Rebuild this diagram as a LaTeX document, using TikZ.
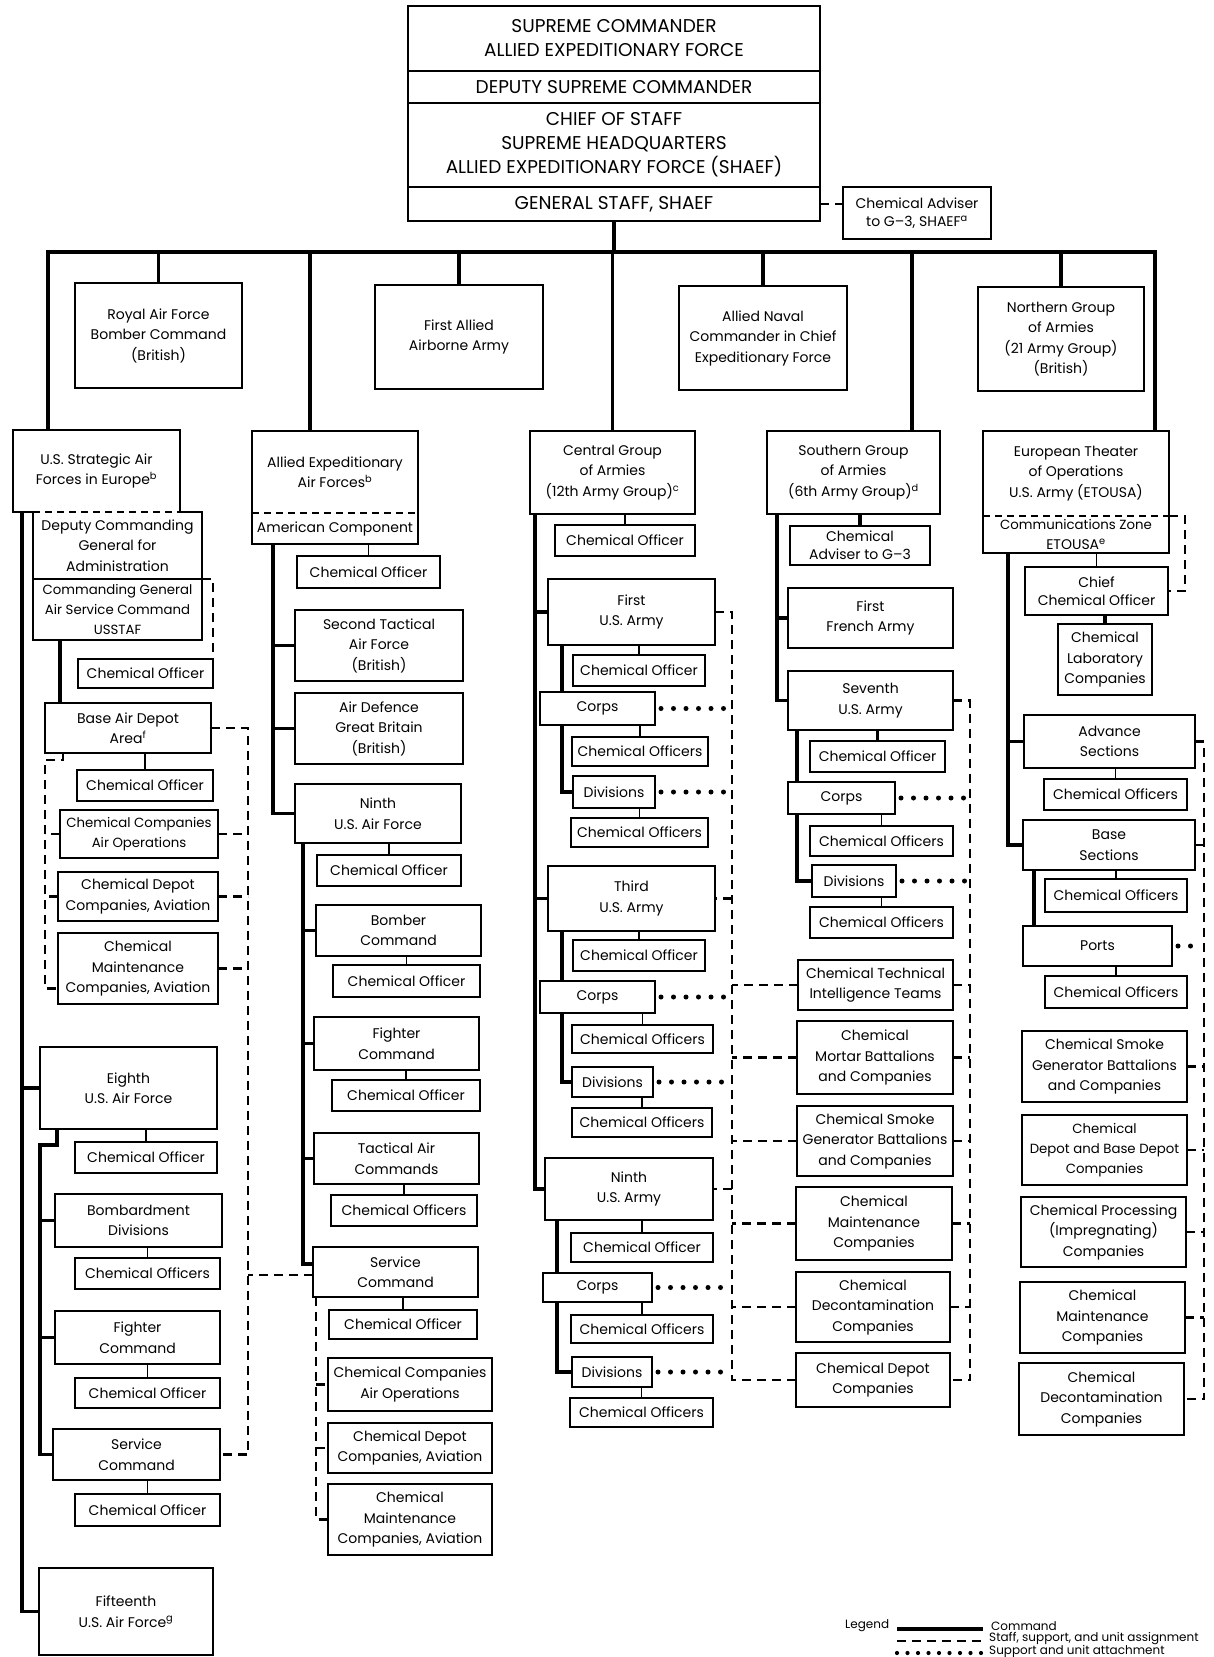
\documentclass[tikz,border=0pt]{standalone}
\usepackage{fontspec}
\setmainfont{Poppins}
\usetikzlibrary{backgrounds}
\tikzset{
 bx/.style={draw, line width=1.8pt, fill=white, inner sep=0pt, outer sep=0pt, align=center, font=\fontsize{14}{20.5}\selectfont},
 sec/.style={bx, draw=none},
 top/.style={bx, font=\fontsize{18.5}{24}\selectfont},
 tight/.style={bx, font=\fontsize{14}{18}\selectfont},
 small/.style={bx, font=\fontsize{13.3}{20}\selectfont},
 bxl/.style={line width=1.8pt},
 cmd/.style={line width=3.5pt},
 dsh/.style={line width=2.8pt, dash pattern=on 9pt off 6pt},
 dsep/.style={line width=1.8pt, dash pattern=on 7pt off 5pt},
 dot/.style={line width=5pt, line cap=round, dash pattern=on 0pt off 12.5pt, shorten <=6pt, shorten >=4pt},
 tick/.style={line width=1.8pt},
 lg/.style={inner sep=0pt, font=\fontsize{12}{12}\selectfont},
}
\newcommand{\ob}[7][bx]{\node[#1,minimum width={(#5)-(#3)},minimum height={(#6)-(#4)}] (#2) at ({((#3)+(#5))/2},{((#4)+(#6))/2}) {#7};}
\begin{document}
\begin{tikzpicture}[x=1pt,y=-1pt]
\useasboundingbox (0,0) rectangle (1213,1657);
% ---------- top ----------
\ob[top]{sup}{408}{6}{820}{71}{SUPREME COMMANDER\\ALLIED EXPEDITIONARY FORCE}
\ob[top]{dep}{408}{71}{820}{103}{DEPUTY SUPREME COMMANDER}
\ob[top]{cos}{408}{103}{820}{187}{CHIEF OF STAFF\\SUPREME HEADQUARTERS\\ALLIED EXPEDITIONARY FORCE (SHAEF)}
\ob[top]{gs}{408}{187}{820}{221}{GENERAL STAFF, SHAEF}
\ob[tight]{chemadv}{843}{187}{991}{239}{Chemical Adviser\\to G--3, SHAEF\textsuperscript{a}}
% ---------- first row ----------
\ob{raf}{75}{283}{242}{388}{Royal Air Force\\Bomber Command\\(British)}
\ob{faaa}{375}{285}{543}{389}{First Allied\\Airborne Army}
\ob{ancxf}{679}{286}{847}{390}{Allied Naval\\Commander in Chief\\Expeditionary Force}
\ob{ngoa}{978}{287}{1144}{391}{Northern Group\\of Armies\\(21 Army Group)\\(British)}
% ---------- column 1 ----------
\ob[sec]{strat}{13}{430}{180}{512}{U.S. Strategic Air\\Forces in Europe\textsuperscript{b}}
\ob[sec]{deputy}{33}{512}{202}{579}{Deputy Commanding\\General for\\Administration}
\ob[sec,small]{comm}{33}{579}{202}{640}{Commanding General\\Air Service Command\\USSTAF}
\ob{co1}{78}{659}{213}{688}{Chemical Officer}
\ob{bad}{45}{703}{211}{753}{Base Air Depot\\Area\textsuperscript{f}}
\ob{co2}{77}{770}{213}{801}{Chemical Officer}
\ob[small]{cca}{60}{810}{218}{858}{Chemical Companies\\Air Operations}
\ob{ccd}{58}{872}{218}{921}{Chemical Depot\\Companies, Aviation}
\ob{ccm}{58}{933}{218}{1004}{Chemical\\Maintenance\\Companies, Aviation}
\ob{eighth}{40}{1047}{217}{1129}{Eighth\\U.S. Air Force}
\ob{co3}{75}{1142}{217}{1173}{Chemical Officer}
\ob{bomb}{55}{1194}{222}{1247}{Bombardment\\Divisions}
\ob{co4}{75}{1258}{220}{1289}{Chemical Officers}
\ob{fc1}{55}{1311}{220}{1364}{Fighter\\Command}
\ob{co5}{75}{1378}{220}{1408}{Chemical Officer}
\ob{esvc}{53}{1429}{220}{1480}{Service\\Command}
\ob{co6}{75}{1494}{220}{1526}{Chemical Officer}
\ob{fif}{39}{1568}{213}{1655}{Fifteenth\\U.S. Air Force\textsuperscript{g}}
% ---------- column 2 ----------
\ob[sec]{aeaf}{252}{431}{418}{513}{Allied Expeditionary\\Air Forces\textsuperscript{b}}
\ob[sec]{amc}{252}{513}{418}{544}{American Component}
\ob{co7}{297}{556}{440}{588}{Chemical Officer}
\ob{tafb}{295}{610}{463}{681}{Second Tactical\\Air Force\\(British)}
\ob{adgb}{295}{693}{463}{764}{Air Defence\\Great Britain\\(British)}
\ob{naf}{295}{784}{461}{843}{Ninth\\U.S. Air Force}
\ob{co8}{317}{855}{461}{886}{Chemical Officer}
\ob{bc}{316}{905}{481}{956}{Bomber\\Command}
\ob{co9}{333}{965}{480}{997}{Chemical Officer}
\ob{fc2}{314}{1017}{479}{1070}{Fighter\\Command}
\ob{co10}{332}{1080}{480}{1111}{Chemical Officer}
\ob{tac}{314}{1133}{479}{1184}{Tactical Air\\Commands}
\ob{co11}{331}{1195}{477}{1226}{Chemical Officers}
\ob{nsvc}{313}{1247}{478}{1297}{Service\\Command}
\ob{co12}{329}{1310}{477}{1339}{Chemical Officer}
\ob{ccaa}{328}{1358}{492}{1411}{Chemical Companies\\Air Operations}
\ob{ccda}{328}{1423}{492}{1473}{Chemical Depot\\Companies, Aviation}
\ob{ccma}{328}{1484}{492}{1555}{Chemical\\Maintenance\\Companies, Aviation}
% ---------- column 3 ----------
\ob{cg}{530}{431}{695}{514}{Central Group\\of Armies\\(12th Army Group)\textsuperscript{c}}
\ob{co13}{555}{525}{695}{556}{Chemical Officer}
\ob{fa}{548}{579}{715}{645}{First\\U.S. Army}
\ob{co14}{573}{655}{705}{686}{Chemical Officer}
\ob{corps1}{540}{692}{655}{725}{Corps}
\ob{co15}{572}{737}{708}{766}{Chemical Officers}
\ob{div1}{573}{776}{655}{808}{Divisions}
\ob{co16}{571}{818}{708}{847}{Chemical Officers}
\ob{ta}{548}{866}{715}{931}{Third\\U.S. Army}
\ob{co17}{573}{940}{705}{971}{Chemical Officer}
\ob{corps3}{540}{981}{655}{1013}{Corps}
\ob{co18}{572}{1025}{713}{1053}{Chemical Officers}
\ob{div3}{572}{1067}{653}{1097}{Divisions}
\ob{co19}{572}{1108}{712}{1137}{Chemical Officers}
\ob{na}{545}{1158}{713}{1220}{Ninth\\U.S. Army}
\ob{co20}{571}{1233}{713}{1262}{Chemical Officer}
\ob{corps9}{543}{1273}{652}{1302}{Corps}
\ob{co21}{571}{1315}{713}{1343}{Chemical Officers}
\ob{div9}{572}{1357}{652}{1387}{Divisions}
\ob{co22}{570}{1398}{713}{1427}{Chemical Officers}
% ---------- column 4 ----------
\ob{sg}{767}{431}{940}{514}{Southern Group\\of Armies\\(6th Army Group)\textsuperscript{d}}
\ob[tight]{cag3}{790}{526}{930}{565}{Chemical\\Adviser to G--3}
\ob{ffa}{788}{588}{953}{648}{First\\French Army}
\ob{sev}{788}{671}{953}{730}{Seventh\\U.S. Army}
\ob{co23}{810}{741}{945}{772}{Chemical Officer}
\ob{corps7}{788}{782}{895}{814}{Corps}
\ob{co24}{810}{826}{953}{856}{Chemical Officers}
\ob{div7}{812}{865}{896}{897}{Divisions}
\ob{co25}{810}{907}{953}{938}{Chemical Officers}
\ob{ctit}{798}{960}{953}{1010}{Chemical Technical\\Intelligence Teams}
\ob{cmor}{797}{1021}{953}{1094}{Chemical\\Mortar Battalions\\and Companies}
\ob{csmk}{797}{1106}{953}{1176}{Chemical Smoke\\Generator Battalions\\and Companies}
\ob{cmnt}{796}{1187}{952}{1260}{Chemical\\Maintenance\\Companies}
\ob{cdcn}{796}{1272}{950}{1342}{Chemical\\Decontamination\\Companies}
\ob{cdep}{796}{1353}{950}{1407}{Chemical Depot\\Companies}
% ---------- column 5 ----------
\ob[sec]{eto}{983}{431}{1169}{516}{European Theater\\of Operations\\U.S. Army (ETOUSA)}
\ob[sec]{comz}{983}{516}{1169}{553}{\fontsize{13.3}{17.5}\selectfont Communications Zone\\ETOUSA\textsuperscript{e}}
\ob[tight]{chief}{1025}{567}{1168}{615}{Chief\\Chemical Officer}
\ob{lab}{1058}{624}{1152}{695}{Chemical\\Laboratory\\Companies}
\ob{adv}{1024}{715}{1195}{768}{Advance\\Sections}
\ob{co26}{1044}{779}{1187}{810}{Chemical Officers}
\ob{base}{1023}{820}{1195}{870}{Base\\Sections}
\ob{co27}{1045}{879}{1187}{912}{Chemical Officers}
\ob{ports}{1023}{926}{1172}{966}{Ports}
\ob{co28}{1045}{976}{1187}{1008}{Chemical Officers}
\ob{smk2}{1022}{1031}{1187}{1102}{Chemical Smoke\\Generator Battalions\\and Companies}
\ob[small]{dep2}{1022}{1115}{1187}{1185}{Chemical\\Depot and Base Depot\\Companies}
\ob{proc}{1021}{1197}{1186}{1267}{Chemical Processing\\(Impregnating)\\Companies}
\ob{mnt2}{1020}{1282}{1185}{1353}{Chemical\\Maintenance\\Companies}
\ob{dcn2}{1019}{1363}{1184}{1435}{Chemical\\Decontamination\\Companies}
% ---------- outlines of split boxes ----------
\draw[bxl] (strat.south west) -- (strat.north west) -- (strat.north east) -- (strat.south east) -- (deputy.north east) -- (comm.south east) -- (comm.south west) -- (deputy.north west) -- cycle;
\draw[dsep] (deputy.north west) -- (strat.south east);
\draw[dsep] (deputy.south west) -- (deputy.south east);
\draw[bxl] (aeaf.north west) rectangle (amc.south east);
\draw[dsep] (aeaf.south west) -- (aeaf.south east);
\draw[bxl] (eto.north west) rectangle (comz.south east);
\draw[dsep] (eto.south west) -- (eto.south east);
% ---------- legend ----------
\node[lg, anchor=west] (lgd) at (845,1626) {Legend};
\coordinate (l1a) at (897,1629); \coordinate (l1b) at (983,1629);
\coordinate (l2a) at (897,1641); \coordinate (l2b) at (986,1641);
\coordinate (l3a) at (897,1653); \coordinate (l3b) at (986,1653);
\node[lg, anchor=west] (lgc) at (991,1626) {Command};
\node[lg, anchor=west] (lgs) at (989,1639) {Staff, support, and unit assignment};
\node[lg, anchor=west] (lgu) at (989,1651) {Support and unit attachment};
% ---------- connectors ----------
\begin{scope}[on background layer]
\fill[white] (0,0) rectangle (1213,1657);
\coordinate (bl) at (48,252); \coordinate (br) at (1155,252);
\coordinate (b2) at (310,252); \coordinate (b4) at (912,252);
\draw[cmd] (gs.south) -- (gs.south |- bl);
\draw[cmd] (bl |- strat.north) -- (bl) -- (br) -- (br |- eto.north);
\foreach \n in {raf,faaa,ancxf,ngoa,cg} \draw[cmd] (\n.north) -- (\n.north |- bl);
\draw[cmd] (b2) -- (b2 |- aeaf.north);
\draw[cmd] (b4) -- (b4 |- sg.north);
\draw[dsh] (gs.east) -- (gs.east -| chemadv.west);
% column 1
\coordinate (lt) at (22,512);
\draw[cmd] (lt) |- (fif.west);
\draw[cmd] (lt |- eighth.west) -- (eighth.west);
\draw[dsh] (deputy.south east) -| (co1.north east);
\coordinate (t1) at ([xshift=27pt]comm.south west);
\draw[cmd] (t1) -- (t1 |- bad.north);
\draw[tick] (co2.north) -- (co2.north |- bad.south);
\coordinate (dx) at (248,728);
\draw[dsh] (bad.east) -- (bad.east -| dx) |- (esvc.east);
\foreach \n in {cca,ccd,ccm} \draw[dsh] (\n.east) -- (\n.east -| dx);
\draw[dsh] ([yshift=-3pt]nsvc.west) -- ([yshift=-3pt]nsvc.west -| dx);
\coordinate (lx) at (45,760);
\draw[dsh] ([xshift=18pt]bad.south west) |- (lx) |- ([yshift=-20pt]ccm.west);
\foreach \n in {cca,ccd} \draw[dsh] (\n.west) -- (\n.west -| lx);
\draw[cmd] ([xshift=17pt]eighth.south west) -- ([xshift=17pt,yshift=-16pt]eighth.south west) -- ([yshift=-16pt]eighth.south west) |- (esvc.west);
\foreach \n in {bomb,fc1} \draw[cmd] (\n.west -| eighth.west) -- (\n.west);
\draw[tick] (co3.north) -- (co3.north |- eighth.south);
\draw[tick] (co4.north) -- (co4.north |- bomb.south);
\draw[tick] (co5.north) -- (co5.north |- fc1.south);
\draw[tick] (co6.north) -- (co6.north |- esvc.south);
% column 2
\coordinate (t2) at ([xshift=21pt]amc.south west);
\draw[cmd] (t2) |- (naf.west);
\foreach \n in {tafb,adgb} \draw[cmd] (\n.west -| t2) -- (\n.west);
\coordinate (t3) at ([xshift=8pt]naf.south west);
\draw[cmd] (t3) |- ([yshift=8pt]nsvc.west);
\foreach \n in {bc,fc2,tac} \draw[cmd] (\n.west -| t3) -- (\n.west);
\draw[tick] (co7.north) -- (co7.north |- amc.south);
\draw[tick] (co8.north) -- (co8.north |- naf.south);
\draw[tick] (co9.north) -- (co9.north |- bc.south);
\draw[tick] (co10.north) -- (co10.north |- fc2.south);
\draw[tick] (co11.north) -- (co11.north |- tac.south);
\draw[tick] (co12.north) -- (co12.north |- nsvc.south);
\coordinate (t4) at ([xshift=3pt]nsvc.south west);
\draw[dsh] (t4) |- (ccma.west);
\foreach \n in {ccaa,ccda} \draw[dsh] (\n.west -| t4) -- (\n.west);
% column 3
\coordinate (t5) at ([xshift=5pt]cg.south west);
\draw[cmd] (t5) |- (na.west);
\foreach \n in {fa,ta} \draw[cmd] (\n.west -| t5) -- (\n.west);
\draw[tick] (co13.north) -- (co13.north |- cg.south);
\coordinate (t6) at ([xshift=14pt]fa.south west);
\draw[cmd] (t6) |- (div1.west);
\coordinate (t7) at ([xshift=14pt]ta.south west);
\draw[cmd] (t7) |- (div3.west);
\coordinate (t8) at ([xshift=12pt]na.south west);
\draw[cmd] (t8) |- (div9.west);
\draw[tick] (co14.north) -- (co14.north |- fa.south);
\draw[tick] (co15.north) -- (co15.north |- corps1.south);
\draw[tick] (co16.north) -- (co16.north |- div1.south);
\draw[tick] (co17.north) -- (co17.north |- ta.south);
\draw[tick] (co18.north) -- (co18.north |- corps3.south);
\draw[tick] (co19.north) -- (co19.north |- div3.south);
\draw[tick] (co20.north) -- (co20.north |- na.south);
\draw[tick] (co21.north) -- (co21.north |- corps9.south);
\draw[tick] (co22.north) -- (co22.north |- div9.south);
\coordinate (cx) at (732,0);
\draw[dsh] (fa.east) -- (fa.east -| cx) |- (cdep.west);
\foreach \n in {ta,na} \draw[dsh] (\n.east -| cx) -- (\n.east);
\foreach \n in {ctit,cmor,csmk,cmnt,cdcn} \draw[dsh] (\n.west) -- (\n.west -| cx);
\foreach \n in {corps1,div1,corps3,div3,corps9,div9} \draw[dot] (\n.east) -- (\n.east -| cx);
% column 4
\coordinate (t9) at ([xshift=10pt]sg.south west);
\draw[cmd] (t9) |- (sev.west);
\draw[cmd] (ffa.west -| t9) -- (ffa.west);
\draw[cmd] (cag3.north) -- (cag3.north |- sg.south);
\coordinate (t10) at ([xshift=9pt]sev.south west);
\draw[cmd] (t10) |- (div7.west);
\draw[cmd] (co23.north) -- (co23.north |- sev.south);
\draw[tick] (co24.north) -- (co24.north |- corps7.south);
\draw[tick] (co25.north) -- (co25.north |- div7.south);
\coordinate (sx) at (970,0);
\draw[dsh] (sev.east) -- (sev.east -| sx) |- (cdep.east);
\foreach \n in {ctit,cmor,csmk,cmnt,cdcn} \draw[dsh] (\n.east) -- (\n.east -| sx);
\foreach \n in {corps7,div7} \draw[dot] (\n.east) -- (\n.east -| sx);
% column 5
\coordinate (t11) at ([xshift=25pt]comz.south west);
\draw[cmd] (t11) |- (base.west);
\draw[cmd] (adv.west -| t11) -- (adv.west);
\draw[tick] (chief.north) -- (chief.north |- comz.south);
\draw[cmd] (lab.north) -- (lab.north |- chief.south);
\draw[dsh] (comz.north east) -- ++(16,0) |- (chief.east);
\coordinate (t12) at ([xshift=11pt]base.south west);
\draw[cmd] (t12) -- (t12 |- ports.north);
\draw[tick] (co26.north) -- (co26.north |- adv.south);
\draw[tick] (co27.north) -- (co27.north |- base.south);
\draw[tick] (co28.north) -- (co28.north |- ports.south);
\coordinate (ex) at (1204,0);
\draw[dsh] (adv.east) -- (adv.east -| ex) |- (dcn2.east);
\foreach \n in {base,smk2,dep2,proc,mnt2} \draw[dsh] (\n.east) -- (\n.east -| ex);
\draw[dot] (ports.east) -- (ports.east -| ex);
% legend lines
\draw[cmd] (l1a) -- (l1b);
\draw[dsh] (l2a) -- (l2b);
\draw[line width=4.2pt, line cap=round, dash pattern=on 0pt off 10.5pt] (l3a) -- (l3b);
\end{scope}
\end{tikzpicture}
\end{document}
